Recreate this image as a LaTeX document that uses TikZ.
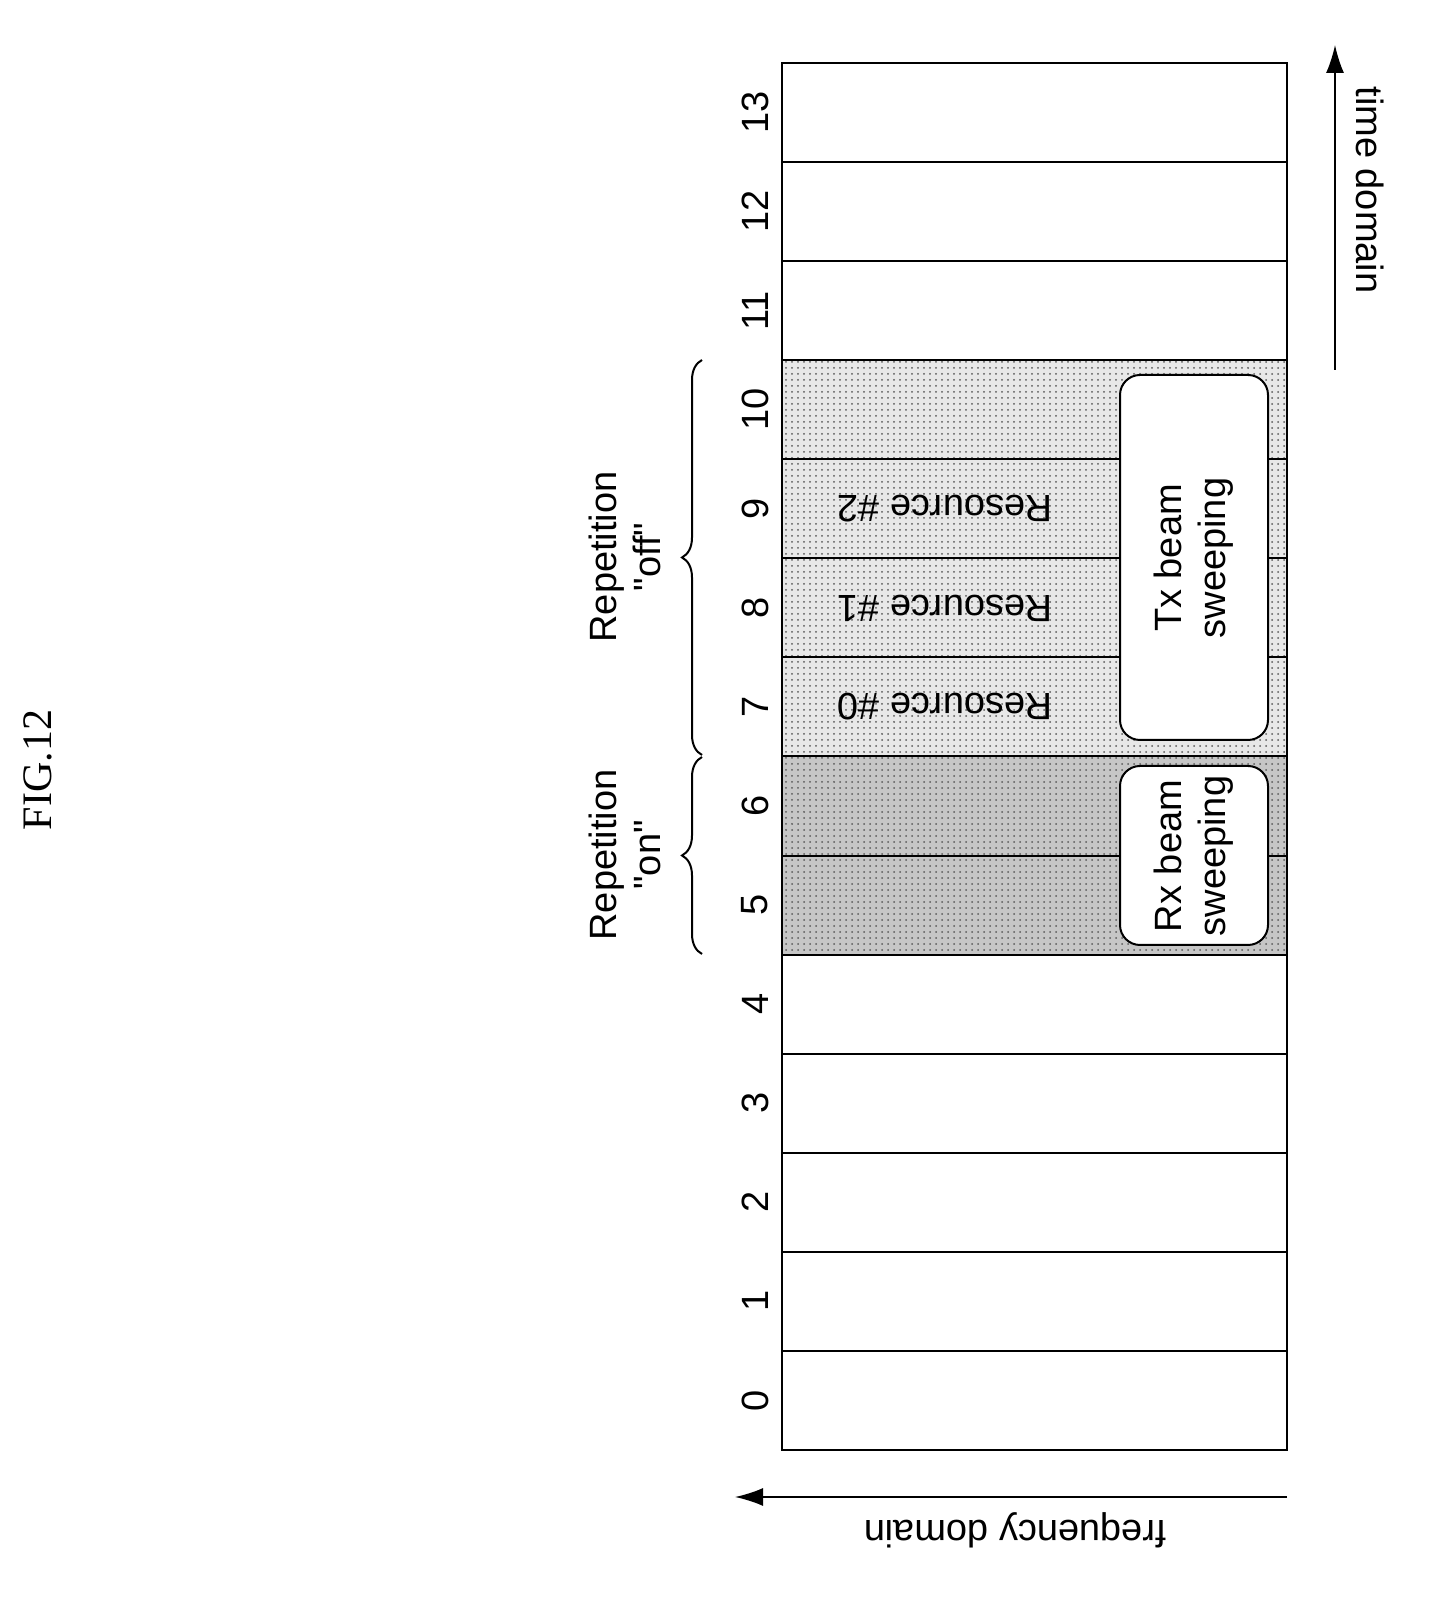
\documentclass[tikz,border=0pt]{standalone}
\usepackage{fontspec}
\setmainfont{Liberation Sans}[Ligatures=TeXOff]
\newfontfamily\figfont{Liberation Serif}
\usetikzlibrary{patterns,decorations.pathreplacing,arrows.meta}
\begin{document}
\begin{tikzpicture}[x=0.5pt,y=0.5pt,
  lbl/.style={font=\fontsize{19}{22}\selectfont,inner sep=0pt},
  rbox/.style={draw,line width=1pt,rounded corners=10pt,fill=white},
  arr/.style={line width=0.8pt,-{Latex[length=14pt,width=9pt]}}]
\useasboundingbox (0,0) rectangle (1438,1616);
% shaded rows
\fill[gray!45] (782,661.4) rectangle (1287,859.8);
\fill[gray!18] (782,859.8) rectangle (1287,1256.1);
\fill[pattern=dots,pattern color=gray!70!black] (782,661.4) rectangle (1287,1256.1);
% grid
\draw[line width=1pt] (782,166) rectangle (1287,1553);
\foreach \i in {1,...,13} \draw[line width=1pt] (782,{166+99.07*\i}) -- (1287,{166+99.07*\i});
\foreach \i in {0,...,13} \node[lbl,rotate=90] (n\i) at (755,{166+99.07*(\i+0.5)}) {\i};
% resources
\foreach \k in {0,1,2} \node[lbl,rotate=180] (r\k) at (945,{166+99.07*(7+\k+0.5)}) {Resource \#\k};
% boxes
\draw[rbox] (1120,876) rectangle (1268,1241);
\node[lbl,rotate=90,align=center] (tx) at (1194,1058) {Tx beam\\sweeping};
\draw[rbox] (1120,671) rectangle (1268,850);
\node[lbl,rotate=90,align=center] (rx) at (1194,760) {Rx beam\\sweeping};
% braces
\draw[line width=1pt,decorate,decoration={brace,amplitude=10}] (702,662) -- (702,859);
\draw[line width=1pt,decorate,decoration={brace,amplitude=10}] (702,861) -- (702,1256);
\node[lbl,rotate=90,align=center] (on) at (625,761) {Repetition\\"on"};
\node[lbl,rotate=90,align=center] (off) at (625,1059) {Repetition\\"off"};
% axes
\coordinate (t0) at (1335,1246); \coordinate (t1) at (1335,1571);
\draw[arr] (t0) -- (t1);
\node[lbl,rotate=-90] (td) at (1370,1426) {time domain};
\coordinate (f0) at (1287,119); \coordinate (f1) at (735,119);
\draw[arr] (f0) -- (f1);
\node[lbl,rotate=180] (fd) at (1015,86) {frequency domain};
\node[font=\figfont\fontsize{21}{24}\selectfont,rotate=90,inner sep=0pt] (fig) at (38,846) {FIG.12};
\end{tikzpicture}
\end{document}
